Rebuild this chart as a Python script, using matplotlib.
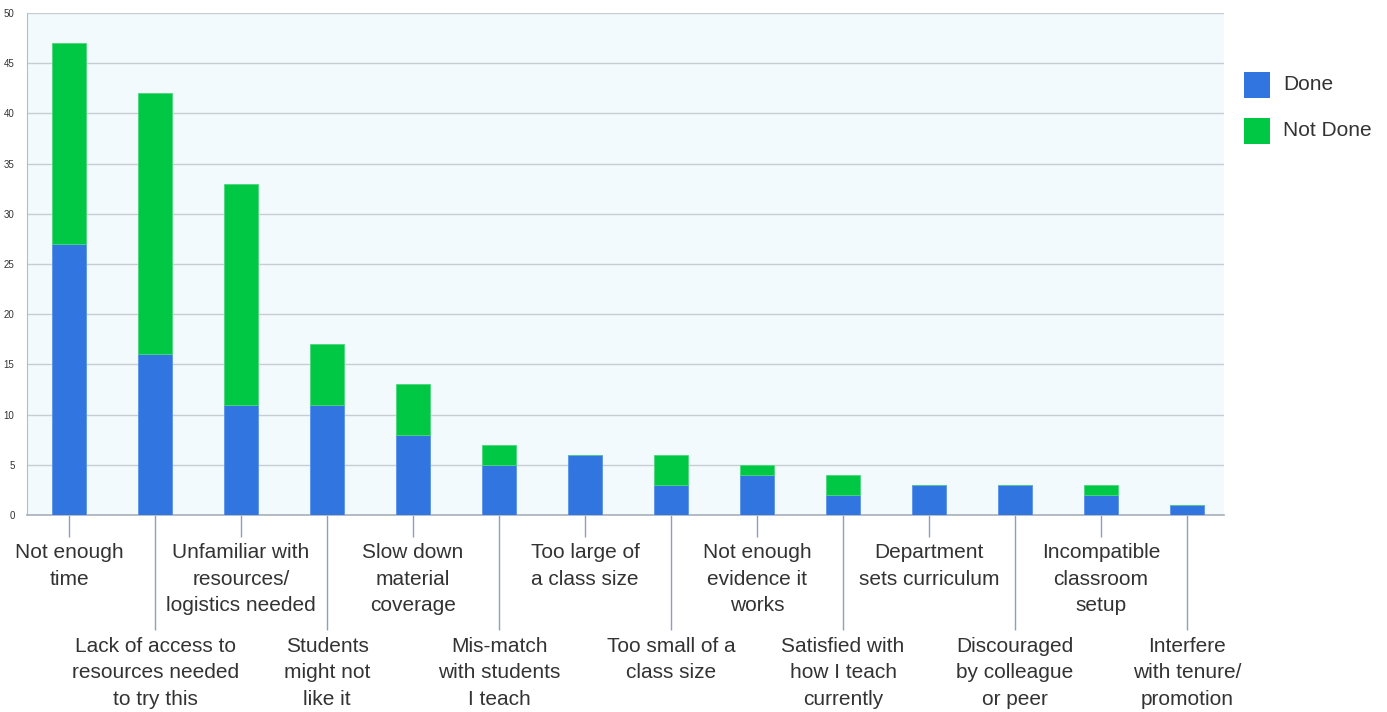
import matplotlib
matplotlib.use("Agg")
import matplotlib.pyplot as plt
from matplotlib.patches import Rectangle
import numpy as np

plt.rcParams['font.family'] = ['Liberation Sans', 'DejaVu Sans']

categories = [
    "Not enough\ntime",
    "Lack of access to\nresources needed\nto try this",
    "Unfamiliar with\nresources/\nlogistics needed",
    "Students\nmight not\nlike it",
    "Slow down\nmaterial\ncoverage",
    "Mis-match\nwith students\nI teach",
    "Too large of\na class size",
    "Too small of a\nclass size",
    "Not enough\nevidence it\nworks",
    "Satisfied with\nhow I teach\ncurrently",
    "Department\nsets curriculum",
    "Discouraged\nby colleague\nor peer",
    "Incompatible\nclassroom\nsetup",
    "Interfere\nwith tenure/\npromotion",
]
done = [27, 16, 11, 11, 8, 5, 6, 3, 4, 2, 3, 3, 2, 1]
not_done = [20, 26, 22, 6, 5, 2, 0, 3, 1, 2, 0, 0, 1, 0]
y_ticks = [0, 5, 10, 15, 20, 25, 30, 35, 40, 45, 50]
series_names = ["Done", "Not Done"]

BLUE = "#3175e1"
GREEN = "#00c744"
TEXT = "#333333"
TICK = "#8f9cc4"

fig = plt.figure(figsize=(13.87, 7.12), dpi=100)
W, H = 1387, 712
left, right, top, bottom = 27, 1224, 13, 515
ax = fig.add_axes([left / W, 1 - bottom / H, (right - left) / W, (bottom - top) / H])
ax.set_facecolor("#f2fafe")

x = np.arange(len(categories))
bw = 0.4
ax.bar(x, done, width=bw, color=BLUE, edgecolor="#5a93ea", linewidth=0.6,
       label=series_names[0], zorder=3)
ax.bar(x, not_done, width=bw, bottom=done, color=GREEN, edgecolor="#4ad77a",
       linewidth=0.6, label=series_names[1], zorder=3)

ax.set_xlim(-0.49, len(categories) - 0.57)
ax.set_ylim(0, 50)
ax.set_yticks(y_ticks)
ax.set_yticklabels([str(v) for v in y_ticks], fontsize=7, color=TEXT)
ax.tick_params(axis="y", length=0, pad=9)
ax.yaxis.grid(True, color="#c8cdd4", linewidth=1.0, zorder=0)
ax.set_axisbelow(True)

# Alternate labels on two rows: even positions short ticks, odd long ticks
even = x[0::2]
odd = x[1::2]
ax.set_xticks(even)
ax.set_xticklabels([categories[i] for i in even], fontsize=15, color=TEXT,
                   linespacing=1.5)
ax.set_xticks(odd, minor=True)
ax.set_xticklabels([categories[i] for i in odd], minor=True, fontsize=15,
                   color=TEXT, linespacing=1.5)
ax.tick_params(axis="x", which="major", length=16, width=1.0, color=TICK, pad=4.5)
ax.tick_params(axis="x", which="minor", length=83, width=1.0, color=TICK, pad=4.5)
for t in ax.get_xticklabels(minor=False) + ax.get_xticklabels(minor=True):
    t.set_verticalalignment("top")
    t.set_horizontalalignment("center")
    t.set_multialignment("center")

for s in ["top", "right"]:
    ax.spines[s].set_visible(False)
ax.spines["left"].set_color("#b4bcc6")
ax.spines["bottom"].set_color("#a8b0bb")
ax.spines["bottom"].set_linewidth(1.2)

# Legend: colour squares with labels on the right
sq = 26
for i, (name, col) in enumerate(zip(series_names, [BLUE, GREEN])):
    y0 = 72 + i * 46
    fig.patches.append(Rectangle((1244 / W, 1 - (y0 + sq) / H), sq / W, sq / H,
                                 transform=fig.transFigure, facecolor=col,
                                 edgecolor="none"))
    fig.text(1283 / W, 1 - (y0 + sq / 2) / H, name, fontsize=15, color=TEXT,
             ha="left", va="center")

fig.savefig("out.png", dpi=100)
